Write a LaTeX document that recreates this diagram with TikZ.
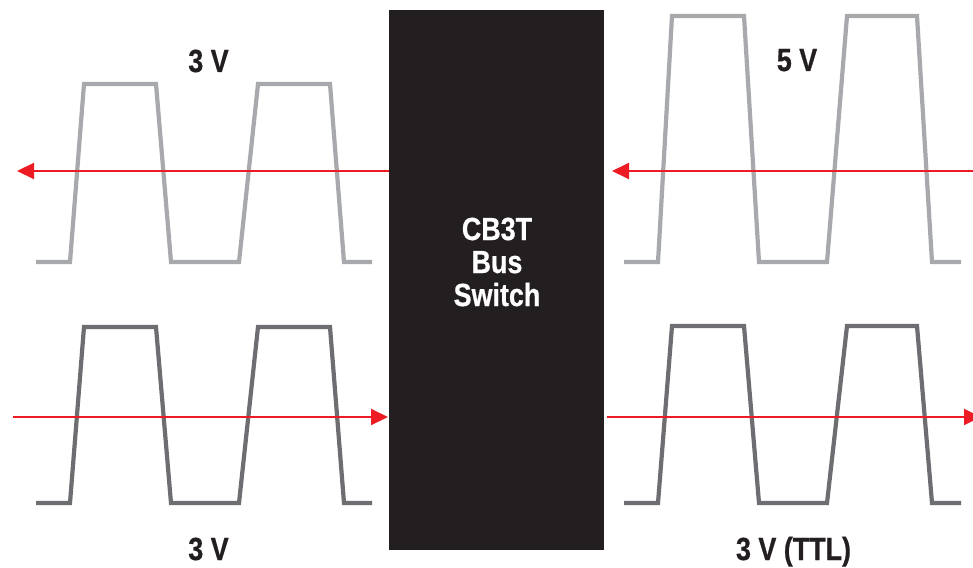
\documentclass[tikz,border=0pt]{standalone}
\usepackage{fontspec}
\setmainfont{Liberation Sans}[FakeStretch=0.84,FakeBold=0.6]
\usetikzlibrary{arrows.meta}
\definecolor{lightwave}{HTML}{A7A9AC}
\definecolor{darkwave}{HTML}{6D6E71}
\definecolor{boxblack}{HTML}{231F20}
\definecolor{sigred}{HTML}{ED1C24}
\begin{document}
\begin{tikzpicture}[x=1pt,y=-1pt,
  wave/.style={line width=4.2pt,line join=miter,line cap=butt},
  lightw/.style={wave,draw=lightwave},
  darkw/.style={wave,draw=darkwave},
  sig/.style={draw=sigred,line width=2pt,-{Triangle[length=17pt,width=16pt]}},
  lbl/.style={font=\bfseries\fontsize{32}{33}\selectfont,text=boxblack,inner sep=0pt,anchor=base},
  switchbox/.style={fill=boxblack,draw=none,minimum width=215pt,minimum height=540pt,inner sep=0pt}
]
\useasboundingbox (0,0) rectangle (973,567);
\fill[white] (0,0) rectangle (973,567);

% switch block
\node[switchbox] (sw) at (496.5,280) {};
\node[font=\bfseries\fontsize{32}{33}\selectfont,text=white,align=center,inner sep=0pt] (swtext) at (497,262) {CB3T\\Bus\\Switch};

% waves
\draw[lightw] (36,262) -- (70,262) -- (84,84) -- (156,84) -- (171,262) -- (239,262) -- (258,84) -- (330,84) -- (344,262) -- (372,262);
\draw[darkw] (36,503) -- (70,503) -- (84,327) -- (156,327) -- (171,503) -- (239,503) -- (258,327) -- (330,327) -- (344,503) -- (372,503);
\draw[lightw] (624,262) -- (658,262) -- (672,16) -- (744,16) -- (759,262) -- (827,262) -- (847,16) -- (917,16) -- (932,262) -- (961,262);
\draw[darkw] (624,503) -- (658,503) -- (672,326) -- (744,326) -- (759,503) -- (827,503) -- (847,326) -- (917,326) -- (932,503) -- (961,503);

% signal arrows
\coordinate (swTL) at (389,171);
\coordinate (outTL) at (17,171);
\coordinate (inBL) at (13,417);
\coordinate (swBL) at (388,417);
\coordinate (inTR) at (973,171);
\coordinate (swTR) at (612,171);
\coordinate (swBR) at (607,417);
\coordinate (outBR) at (981,417);
\draw[sig] (swTL) -- (outTL);
\draw[sig] (inBL) -- (swBL);
\draw[sig] (inTR) -- (swTR);
\draw[sig] (swBR) -- (outBR);

% labels
\node[lbl] (l1) at (208.5,72) {3 V};
\node[lbl] (l2) at (208.5,560) {3 V};
\node[lbl] (l3) at (797,71) {5 V};
\node[lbl] (l4) at (793.5,560) {3 V (TTL)};
\end{tikzpicture}
\end{document}
